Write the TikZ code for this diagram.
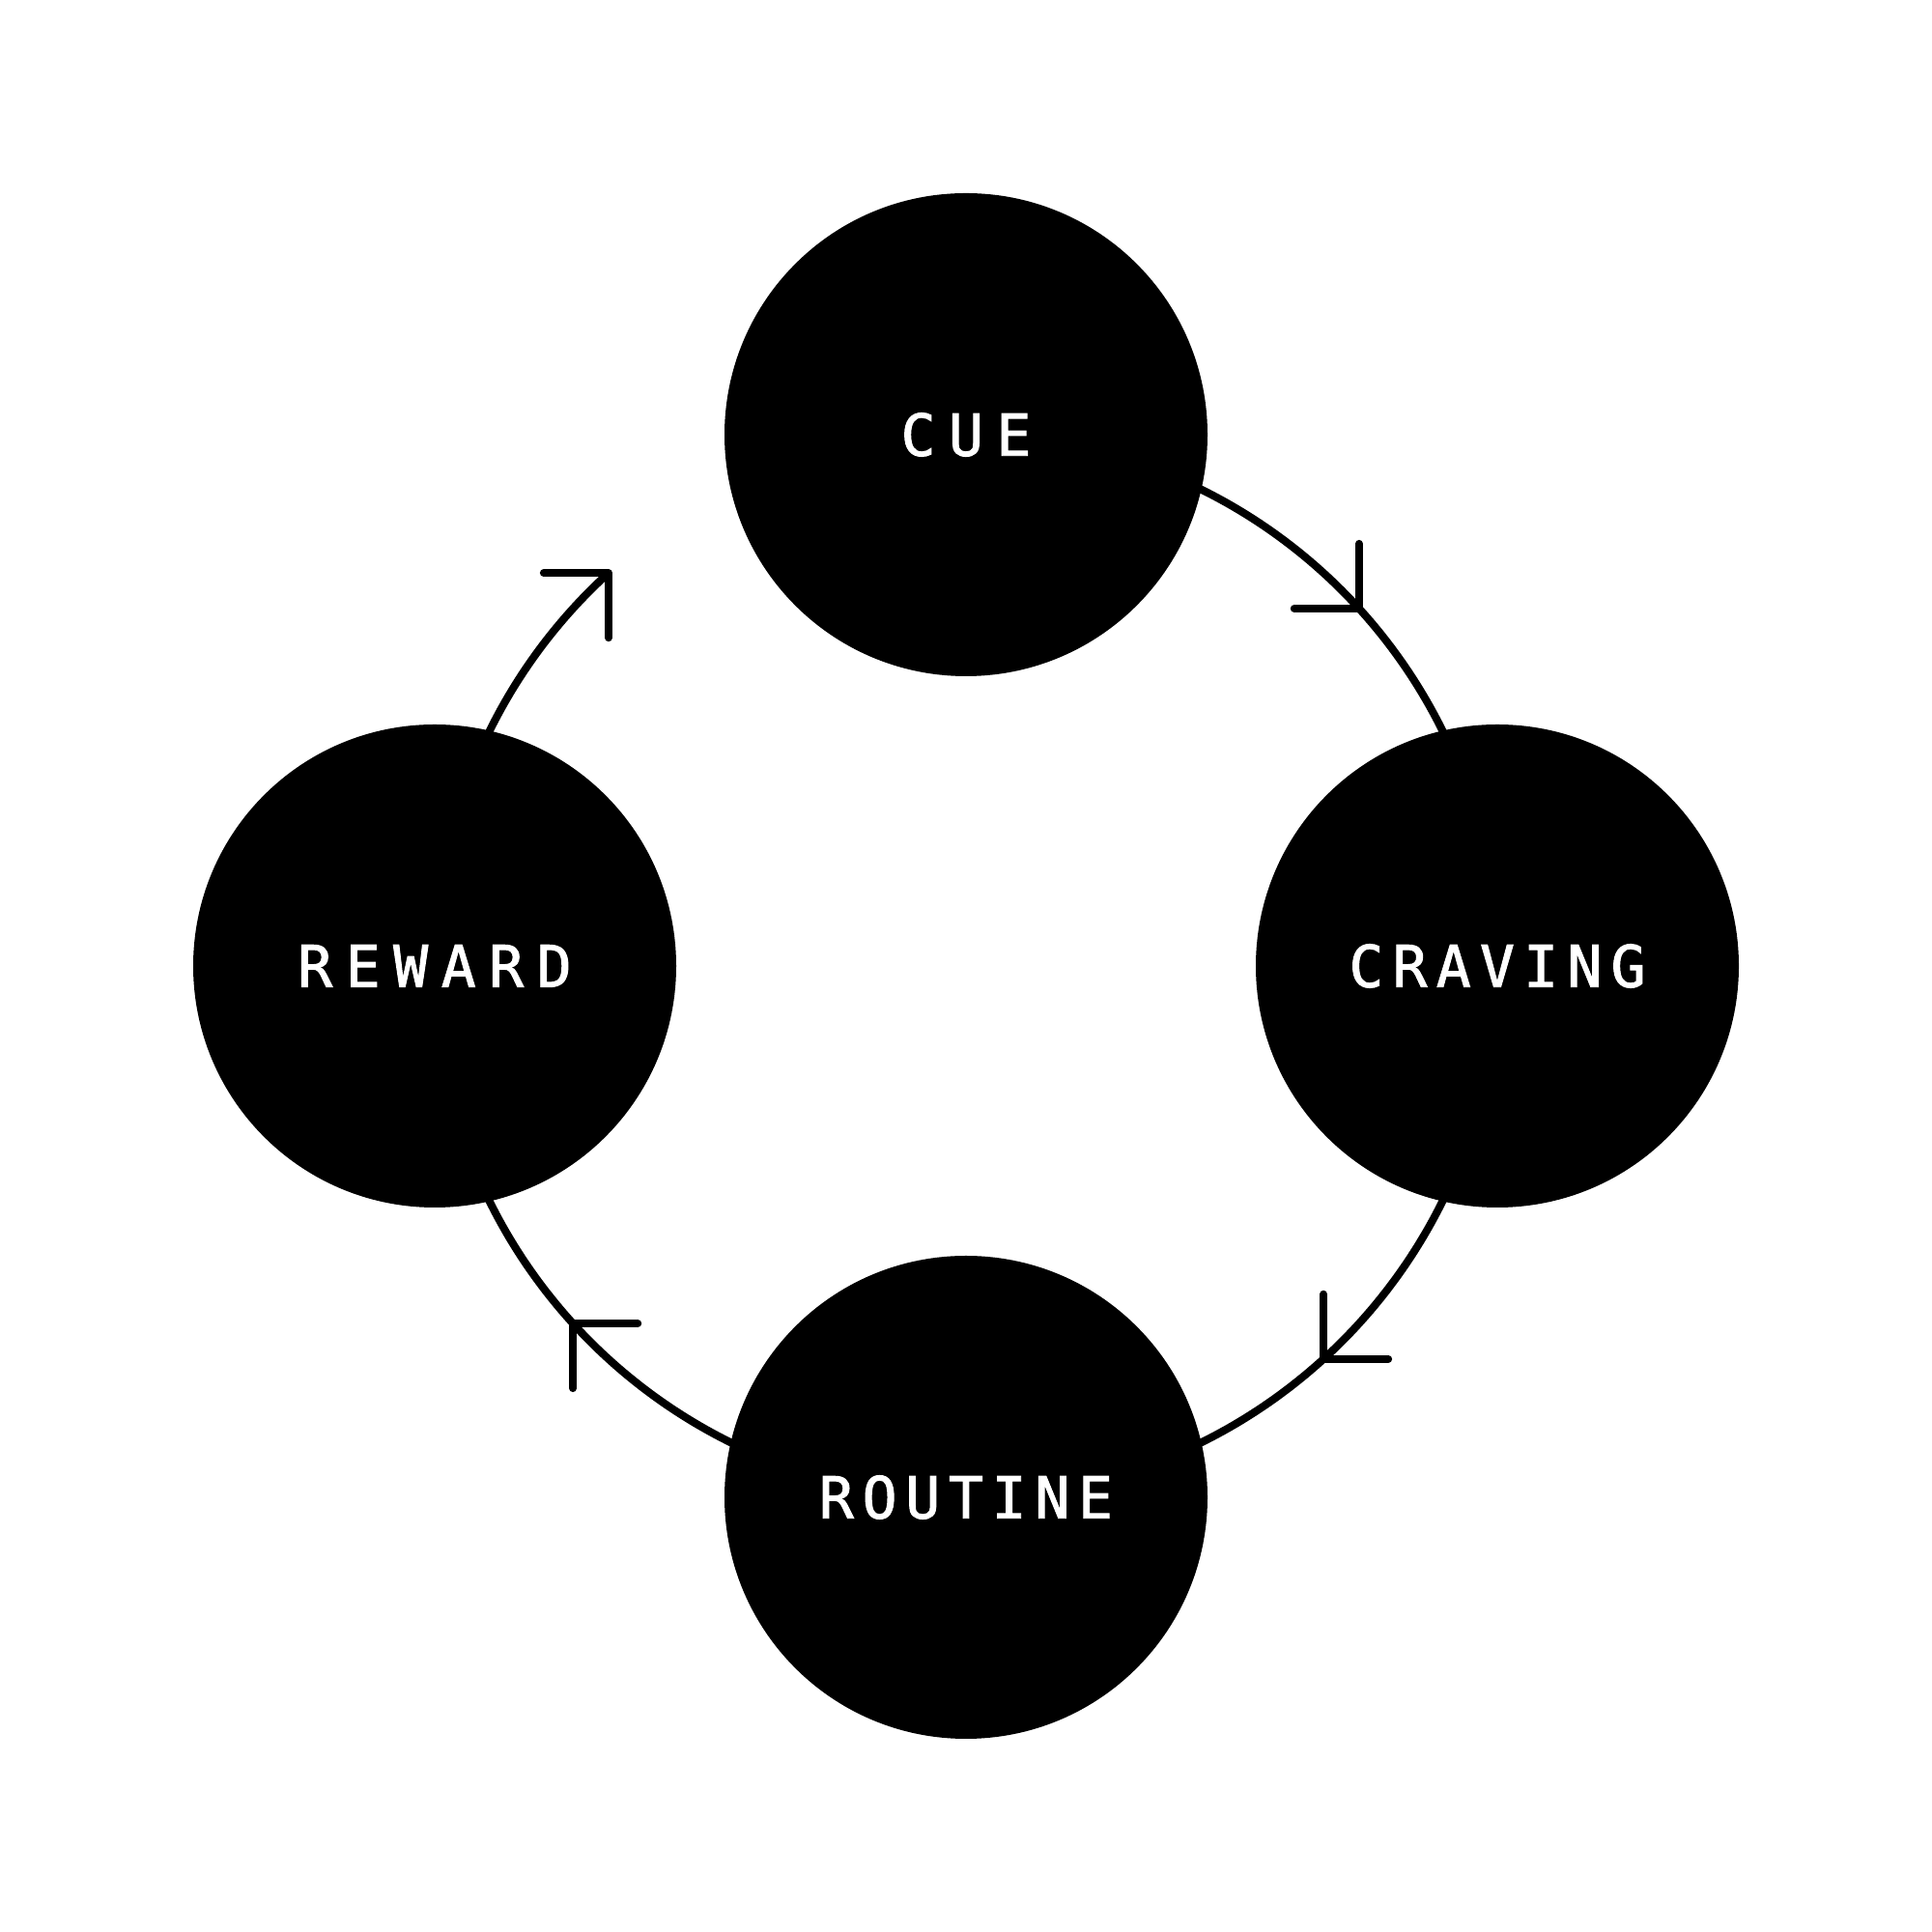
\documentclass[tikz,border=0pt]{standalone}
\usepackage{fontspec}
\newfontfamily\stagefont[FakeBold=1.6]{DejaVu Sans Mono}
\usetikzlibrary{backgrounds}
\newlength\pitchlen
\newcommand\lt[1]{\makebox[\pitchlen]{#1}}
\begin{document}
\begin{tikzpicture}[
  stage/.style={circle, fill=black, minimum size=5cm, inner sep=0pt, text=white,
    font=\stagefont\fontsize{17}{20}\selectfont},
  ring/.style={line width=0.08cm},
  head/.style={line width=0.08cm, line cap=round, line join=round}
]
\useasboundingbox (0,0) rectangle (20,20);
\coordinate (O) at (10,10);
\node[stage] (cue) at (10,15.5) {\setlength\pitchlen{0.495cm}\lt{C}\lt{U}\lt{E}};
\node[stage] (craving) at (15.5,10) {\setlength\pitchlen{0.452cm}\lt{C}\lt{R}\lt{A}\lt{V}\lt{I}\lt{N}\lt{G}};
\node[stage] (routine) at (10,4.5) {\setlength\pitchlen{0.447cm}\lt{R}\lt{O}\lt{U}\lt{T}\lt{I}\lt{N}\lt{E}};
\node[stage] (reward) at (4.5,10) {\setlength\pitchlen{0.495cm}\lt{R}\lt{E}\lt{W}\lt{A}\lt{R}\lt{D}};
\coordinate (t1) at ([shift={(42.3:5.5)}]O);
\coordinate (t2) at ([shift={(-47.7:5.5)}]O);
\coordinate (t3) at ([shift={(222.3:5.5)}]O);
\begin{scope}[on background layer]
\draw[ring] (cue.center) arc[start angle=90, end angle=0, radius=5.5];
\draw[ring] (craving.center) arc[start angle=0, end angle=-90, radius=5.5];
\draw[ring] (routine.center) arc[start angle=-90, end angle=-180, radius=5.5];
\draw[ring] (reward.center) arc[start angle=180, end angle=132.3, radius=5.5] coordinate (t4);
\end{scope}
\draw[head] ([yshift=0.67cm]t1) -- (t1) -- ([xshift=-0.67cm]t1);
\draw[head] ([yshift=0.67cm]t2) -- (t2) -- ([xshift=0.67cm]t2);
\draw[head] ([xshift=0.67cm]t3) -- (t3) -- ([yshift=-0.67cm]t3);
\draw[head] ([xshift=-0.67cm]t4) -- (t4) -- ([yshift=-0.67cm]t4);
\end{tikzpicture}
\end{document}
